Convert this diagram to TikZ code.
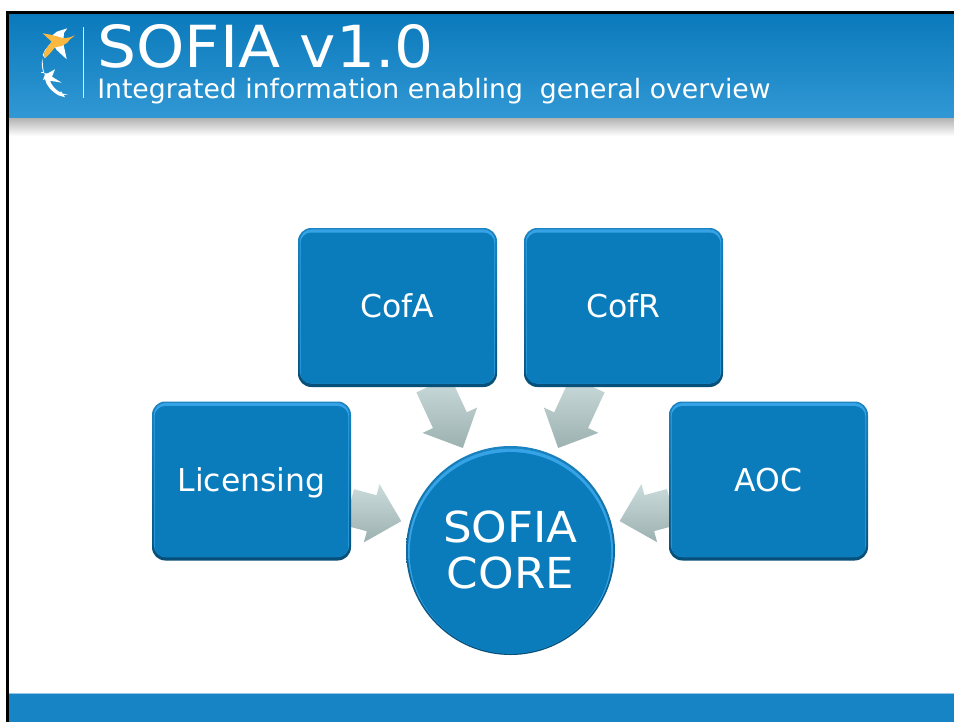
\documentclass[tikz,border=0pt]{standalone}
\usepackage{fontspec}
\setmainfont{DejaVu Sans}
\newfontfamily\widefont[FakeStretch=1.06]{DejaVu Sans}
\usetikzlibrary{calc}
\pgfdeclarelayer{under}
\pgfsetlayers{under,main}
\definecolor{mainblue}{HTML}{0A7CBC}
\definecolor{edgetop}{HTML}{1A83C0}
\definecolor{edgebot}{HTML}{064F78}
\definecolor{glow}{HTML}{35A3E6}
\definecolor{headtop}{HTML}{0A79BB}
\definecolor{headbot}{HTML}{3198D4}
\definecolor{footblue}{HTML}{1784C5}
\definecolor{arrowtop}{HTML}{CBDBDB}
\definecolor{arrowbot}{HTML}{9DB1B1}
\definecolor{birdorange}{HTML}{FDB840}
\tikzset{
  x=0.75pt,y=-0.75pt,
  tilebox/.style={
    minimum width=149.25pt,minimum height=119.25pt,rounded corners=10pt,inner sep=0pt,
    top color=edgetop,bottom color=edgebot,text=white,font=\fontsize{23.6}{27}\selectfont,
    text height=15.6pt,text depth=0pt,
    path picture={
      \fill[glow,rounded corners=9pt]
        ([shift={(1.4pt,-1pt)}]path picture bounding box.north west) rectangle
        ([shift={(-1.4pt,2.5pt)}]path picture bounding box.south east);
      \fill[mainblue,rounded corners=8pt]
        ([shift={(1.9pt,-3.4pt)}]path picture bounding box.north west) rectangle
        ([shift={(-2pt,2.6pt)}]path picture bounding box.south east);
    }},
  hubdisc/.style={
    circle,minimum size=156.75pt,inner sep=0pt,align=center,
    top color=edgetop,bottom color=edgebot,text=white,font=\widefont\fontsize{32}{34.5}\selectfont,
    path picture={
      \fill[glow] ([yshift=-0.4pt]path picture bounding box.center) circle (76.9pt);
      \fill[mainblue] ([yshift=-1.8pt]path picture bounding box.center) circle (75.6pt);
    }},
  flowshape/.style={top color=arrowtop,bottom color=arrowbot,draw=none},
  titletext/.style={text=white,anchor=base west,inner sep=0pt},
}
\newcommand{\flowarrow}[3]{%
  \coordinate (tip) at ($(#2)!84.8pt!(#1)$);
  \coordinate (neck) at ($(tip)!23pt!(#1)$);
  \coordinate (end) at ($(tip)!#3*0.75pt!(#1)$);
  \shade[flowshape] (tip)
    -- ($(neck)!22.6pt!90:(tip)$)
    -- ($(neck)!14pt!90:(tip)$)
    -- ($(end)!14pt!90:(tip)$)
    -- ($(end)!14pt!-90:(tip)$)
    -- ($(neck)!14pt!-90:(tip)$)
    -- ($(neck)!22.6pt!-90:(tip)$)
    -- cycle;
}
\begin{document}
\begin{tikzpicture}
\useasboundingbox (0,0) rectangle (954,722);
% header, shadow, footer
\shade[top color=headtop,bottom color=headbot] (9,14) rectangle (954,118);
\shade[top color=black!30,bottom color=white] (9,118) rectangle (954,136);
\fill[footblue] (9,694) rectangle (954,722);
\fill[footblue!45] (9,693.3) rectangle (954,694.3);
% frame
\fill[black] (6,11) rectangle (954,14);
\fill[black] (6,11) rectangle (9,722);
% logo
\fill[white!85!headtop] (83,27) rectangle (84,98);
\fill[white] (67.3,28.3) -- (56.7,31.7) -- (51.7,36) -- (60,38) -- (63.5,38.5) -- (64,33) -- cycle;
\fill[white] (63.3,43.5) -- (66.7,59.3) -- (56.7,50) -- (54,46) -- cycle;
\fill[white] (51.7,41.7) -- (45,50) -- (42.7,55) -- (45,58.3) -- (44,53) -- (47,48) -- cycle;
\fill[white] (42.7,58.3) .. controls (41.2,63) and (41.7,68) .. (43.3,71.7)
  -- (40.7,72.7) -- (47.5,73.5) -- (55,69.3) -- (52,76.7) -- (61.7,82.7) -- (50,80.7)
  .. controls (52,86) and (55,89) .. (59.5,92)
  -- (61.5,91.5) -- (62.5,93.5) -- (68.3,95) -- (63.5,94.8) -- (65,97.3) -- (58.5,95.3)
  .. controls (51,91) and (46,85) .. (45,79)
  -- (43,80) -- (44.8,75) 
  .. controls (43,70) and (42.6,64) .. cycle;
\fill[birdorange] (42.7,33.3) -- (50.7,34.7) -- (58.3,36.7) -- (63.3,38.3) -- (70,37.3) -- (75,35.3)
  -- (70,39.3) -- (67.3,42.7) -- (61.7,46) -- (55,47.3) -- (50,53.3) -- (45,58.3) -- (44,53.3) -- (46.7,48.3) -- (51.7,41.7) -- cycle;
% titles
\node[titletext,font=\widefont\fontsize{43.5}{47}\selectfont] (title) at (97,67) {SOFIA v1.0};
\node[titletext,font=\fontsize{20}{24}\selectfont] (subtitle) at (97,98) {Integrated information enabling\ \ general overview};
% nodes
\node[tilebox] (cofa) at (397.5,307.5) {CofA};
\node[tilebox] (cofr) at (623.5,307.5) {CofR};
\node[tilebox] (lic) at (251.5,481) {Licensing};
\node[tilebox] (aoc) at (768.5,481) {AOC};
\node[hubdisc] (core) at (510.5,550.5) {\raisebox{1.5pt}{SOFIA}\\\raisebox{1.5pt}{CORE}};
% connectors
\begin{pgfonlayer}{under}
\flowarrow{cofa}{core}{70}
\flowarrow{cofr}{core}{70}
\flowarrow{lic}{core}{54}
\flowarrow{aoc}{core}{54}
\end{pgfonlayer}
\end{tikzpicture}
\end{document}
